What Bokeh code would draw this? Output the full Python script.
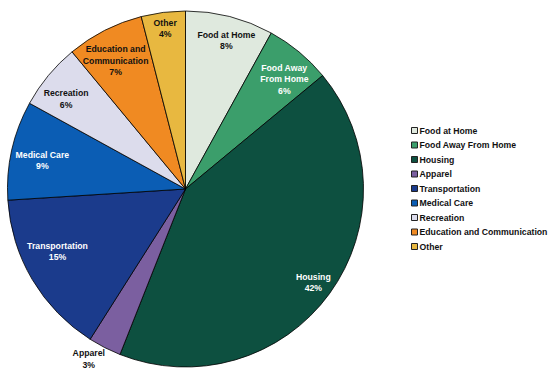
import math
from bokeh.plotting import figure
from bokeh.models import Range1d, ColumnDataSource
from bokeh.core.properties import value
from bokeh.embed import file_html
from bokeh.resources import INLINE

categories = ["Food at Home", "Food Away From Home", "Housing", "Apparel",
              "Transportation", "Medical Care", "Recreation",
              "Education and Communication", "Other"]
shares = [8, 6, 42, 3, 15, 9, 6, 7, 4]
slice_labels = ["Food at Home", "Food Away\nFrom Home", "Housing", "Apparel",
                "Transportation", "Medical Care", "Recreation",
                "Education and\nCommunication", "Other"]
colors = ["#dfe9de", "#3b9e6b", "#0d5040", "#7b5fa0", "#1b3b8c",
          "#0b5db4", "#dcdcec", "#f08a22", "#e8b840"]
label_colors = ["#111111", "white", "white", "#111111", "white", "white",
                "#111111", "#111111", "#111111"]
# layout: label placement (radius fraction, clockwise angle shift in degrees)
label_radius = [0.865, 0.83, 0.89, 1.1, 0.8, 0.82, 0.84, 0.82, 0.91]
label_shift = [1.0, 2.4, 0.2, 2.6, 4.6, -1.3, -2.6, -1.6, 0.0]

W, H = 550, 391
p = figure(width=W, height=H, output_backend="svg", toolbar_location=None,
           x_range=Range1d(0, W), y_range=Range1d(0, H), min_border=0,
           outline_line_color=None)
p.axis.visible = False
p.grid.visible = False
p.background_fill_color = "white"
p.border_fill_color = "white"

cx, cy, R = 185, 202.5, 178
total = sum(shares)
starts, ends, mids = [], [], []
cum = 0
for s in shares:
    a0 = math.pi / 2 - 2 * math.pi * (cum + s) / total
    a1 = math.pi / 2 - 2 * math.pi * cum / total
    starts.append(a0)
    ends.append(a1)
    mids.append((a0 + a1) / 2)
    cum += s

src = ColumnDataSource(dict(start=starts, end=ends, color=colors))
p.wedge(x=cx, y=cy, radius=R, radius_units="screen", start_angle="start",
        end_angle="end", fill_color="color", line_color="black",
        line_width=0.8, source=src)

angs = [m - math.radians(d) for m, d in zip(mids, label_shift)]
lx = [cx + f * R * math.cos(a) for f, a in zip(label_radius, angs)]
ly = [cy + f * R * math.sin(a) for f, a in zip(label_radius, angs)]
texts = [f"{l}\n{s}%" for l, s in zip(slice_labels, shares)]
lsrc = ColumnDataSource(dict(x=lx, y=ly, t=texts, c=label_colors))
p.text(x="x", y="y", text="t", text_color="c", source=lsrc,
       text_font=value("Liberation Sans"), text_font_style="bold",
       text_font_size="8.7px", text_align="center",
       text_baseline="middle", text_line_height=1.15)

# legend
leg_x0, leg_y0, leg_dy = 414, 261, 14.5
idx = list(range(len(categories)))
gx = [leg_x0] * len(idx)
gy = [leg_y0 - i * leg_dy for i in idx]
p.scatter(x=gx, y=gy, marker="square", size=6, fill_color=colors,
          line_color="#222222", line_width=1)
p.text(x=[leg_x0 + 5] * len(idx), y=gy, text=categories,
       text_font=value("Liberation Sans"), text_font_style="bold",
       text_font_size="8.7px", text_color="#111111", text_baseline="middle",
       text_align="left")

open("out.html", "w").write(file_html(p, INLINE))
